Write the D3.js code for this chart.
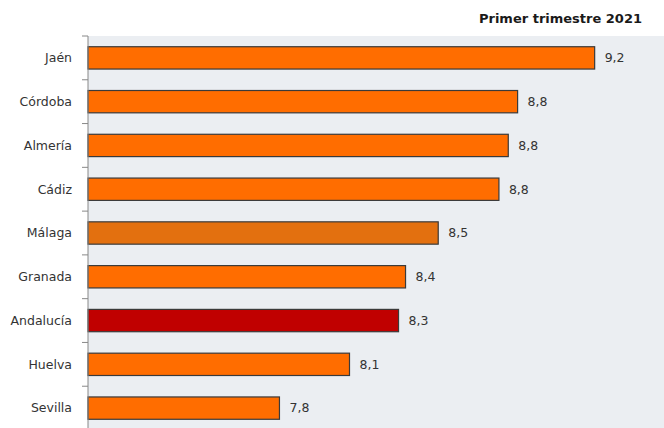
<!DOCTYPE html>
<html><head><meta charset="utf-8">
<script src="https://cdn.jsdelivr.net/npm/d3@7"></script>
<style>body{margin:0;background:#fff}svg{display:block}</style>
</head><body><svg id="c" width="664" height="428"></svg>
<script>
const categories = ["Jaén","Córdoba","Almería","Cádiz","Málaga","Granada","Andalucía","Huelva","Sevilla"];
const values = [9.17, 8.84, 8.80, 8.76, 8.50, 8.36, 8.33, 8.12, 7.82];
const valueLabels = ["9,2","8,8","8,8","8,8","8,5","8,4","8,3","8,1","7,8"];
const barColors = ["#FF6D00","#FF6D00","#FF6D00","#FF6D00","#E3700F","#FF6D00","#C00000","#FF6D00","#FF6D00"];
const title = "Primer trimestre 2021";

const svg = d3.select("#c");
const W = 664, H = 428;
const m = {l: 88, t: 36};
const x = d3.scaleLinear().domain([7, 9.467]).range([m.l, W]);
const y = d3.scaleBand().domain(categories).range([m.t, 430]).paddingInner(0.49).paddingOuter(0.245);

svg.append("rect").attr("x", m.l).attr("y", m.t).attr("width", W - m.l).attr("height", H - m.t).attr("fill", "#EBEEF2");

const font = "'DejaVu Sans', Verdana, sans-serif";

svg.append("text").attr("x", 642).attr("y", 23).attr("text-anchor", "end")
  .attr("font-family", font).attr("font-size", 13).attr("font-weight", "bold").attr("fill", "#1a1a1a")
  .text(title);

svg.selectAll("rect.bar").data(categories).join("rect").attr("class", "bar")
  .attr("x", x(7)).attr("y", d => y(d))
  .attr("width", (d, i) => x(values[i]) - x(7)).attr("height", y.bandwidth())
  .attr("fill", (d, i) => barColors[i]).attr("stroke", "#3a3a3a").attr("stroke-width", 1.2);

svg.selectAll("text.val").data(categories).join("text").attr("class", "val")
  .attr("x", (d, i) => x(values[i]) + 10).attr("y", d => y(d) + y.bandwidth() / 2)
  .attr("dy", "0.35em").attr("font-family", font).attr("font-size", 12.5).attr("fill", "#333")
  .text((d, i) => valueLabels[i]);

// axis
const edges = d3.range(categories.length + 1).map(i => m.t + i * y.step());
svg.append("line").attr("x1", m.l).attr("x2", m.l).attr("y1", m.t).attr("y2", H).attr("stroke", "#888").attr("stroke-width", 1);
svg.selectAll("line.tick").data(edges).join("line").attr("class", "tick")
  .attr("x1", m.l - 6).attr("x2", m.l).attr("y1", d => d).attr("y2", d => d).attr("stroke", "#888");
svg.selectAll("text.cat").data(categories).join("text").attr("class", "cat")
  .attr("x", 72).attr("y", d => y(d) + y.bandwidth() / 2).attr("dy", "0.35em")
  .attr("text-anchor", "end").attr("font-family", font).attr("font-size", 12.5).attr("fill", "#333")
  .text(d => d);
</script></body></html>
